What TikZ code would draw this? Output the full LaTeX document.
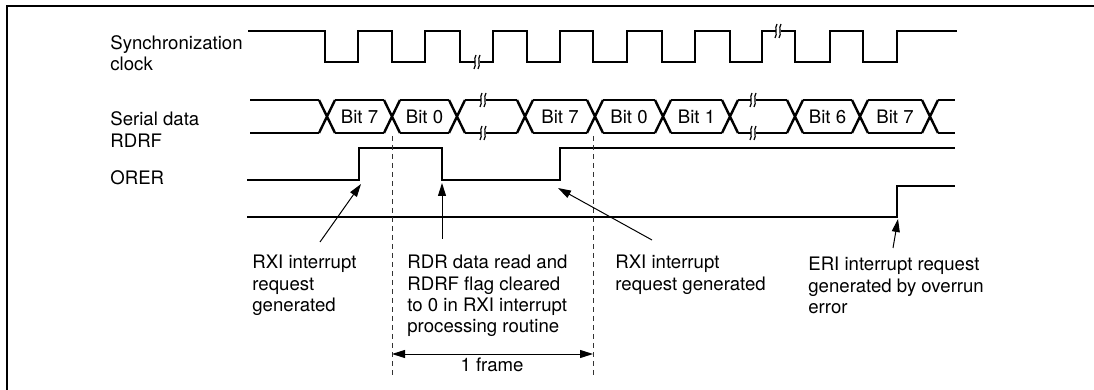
\documentclass[tikz,border=0pt]{standalone}
\usepackage{fontspec}
\setmainfont{TeX Gyre Heros}
\usetikzlibrary{arrows.meta}

\begin{document}
\begin{tikzpicture}[x=0.5pt, y=-0.5pt,
    sig/.style={line width=1.2pt, line join=miter},
    lbl/.style={font=\fontsize{9.3}{10.6}\selectfont, inner sep=0pt, align=left, anchor=north west},
    arr/.style={line width=0.5pt, -{Triangle[length=6.5pt, width=4pt]}},
    brk/.pic={
        \fill[white] (-2.5,-8) rectangle (2.5,8);
        \draw[line width=0.6pt] (-1,-7) .. controls (-4,-3) and (0,3) .. (-3,7)
                                (3,-7) .. controls (0,-3) and (4,3) .. (1,7);
    }]
    \useasboundingbox (0,0) rectangle (1094,390);
    \draw[line width=1pt] (7,392) -- (7,6) -- (1096,6);

    % Signal names
    \node[lbl] (nclk) at (110,35) {Synchronization\\clock};
    \node[lbl] (ndat) at (110,111) {Serial data};
    \node[lbl] (nrdrf) at (110,134) {RDRF};
    \node[lbl] (norer) at (110,170) {ORER};

    % Synchronization clock
    \draw[sig] (248,31) -| (325,62) -| (358,31) -| (392,62) -| (425,31) -| (460,62)
        -| (493,31) -| (527,62) -| (560,31) -| (593,62) -| (627,31) -| (662,62)
        -| (695,31) -| (730,62) -| (762,31) -| (795,62) -| (830,31) -| (863,62)
        -| (897,31) -- (957,31);
    \pic at (477,62) {brk};
    \pic at (778,31) {brk};

    % Serial data
    \draw[sig] (250,100) -- (319,100) (250,133) -- (319,133);
    \draw[sig] (938,100) -- (955,100) (938,133) -- (955,133);
    \foreach \c in {327,392,457,525,595,663,730,795,860,930} {
        \draw[sig] (\c-8,100) -- (\c+8,133) (\c-8,133) -- (\c+8,100);
    }
    \foreach \a/\b in {327/392,392/457,457/525,525/595,595/663,663/730,730/795,795/860,860/930} {
        \draw[sig] (\a+8,100) -- (\b-8,100) (\a+8,133) -- (\b-8,133);
    }
    \foreach \c/\t [count=\i] in {359.5/Bit 7, 424.5/Bit 0, 560/Bit 7, 629/Bit 0,
                                  696.5/Bit 1, 827.5/Bit 6, 895/Bit 7} {
        \node[font=\fontsize{9.3}{10.6}\selectfont, inner sep=0pt] (bit\i) at (\c,116.5) {\t};
    }
    \foreach \x in {483,753} {
        \pic at (\x,100) {brk};
        \pic at (\x,133) {brk};
    }

    % RDRF and ORER
    \draw[sig] (247,180) -| (359,148) -| (442,180) -| (560,148) -- (955,148);
    \draw[sig] (247,217) -| (897,186) -- (955,186);

    % Frame boundaries
    \draw[line width=0.5pt, black!80, dash pattern=on 2.5pt off 2pt] (392,136) -- (392,375);
    \draw[line width=0.5pt, black!80, dash pattern=on 2.5pt off 2pt] (593,136) -- (593,375);
    \coordinate (fa) at (392,354);
    \coordinate (fb) at (593,354);
    \draw[line width=0.5pt, {Triangle[length=6.5pt, width=4pt]}-{Triangle[length=6.5pt, width=4pt]}] (fa) -- (fb);
    \node[font=\fontsize{9.3}{10.6}\selectfont, inner sep=0pt] (frm) at (492,365) {1 frame};

    % Annotations
    \node[lbl] (t1) at (252,255) {RXI interrupt\\request\\generated};
    \node[lbl] (t2) at (407,255) {RDR data read and\\RDRF flag cleared\\to 0 in RXI interrupt\\processing routine};
    \node[lbl] (t3) at (615,255) {RXI interrupt\\request generated};
    \node[lbl] (t4) at (808,257) {ERI interrupt request\\generated by overrun\\error};

    \coordinate (s1) at (320,242);  \coordinate (e1) at (361,184);
    \coordinate (s2) at (442,239);  \coordinate (e2) at (442,183);
    \coordinate (s3) at (652,240);  \coordinate (e3) at (558,188);
    \coordinate (s4) at (893,248);  \coordinate (e4) at (898,219);
    \foreach \i in {1,2,3,4} {
        \draw[arr] (s\i) -- (e\i);
    }
\end{tikzpicture}
\end{document}
